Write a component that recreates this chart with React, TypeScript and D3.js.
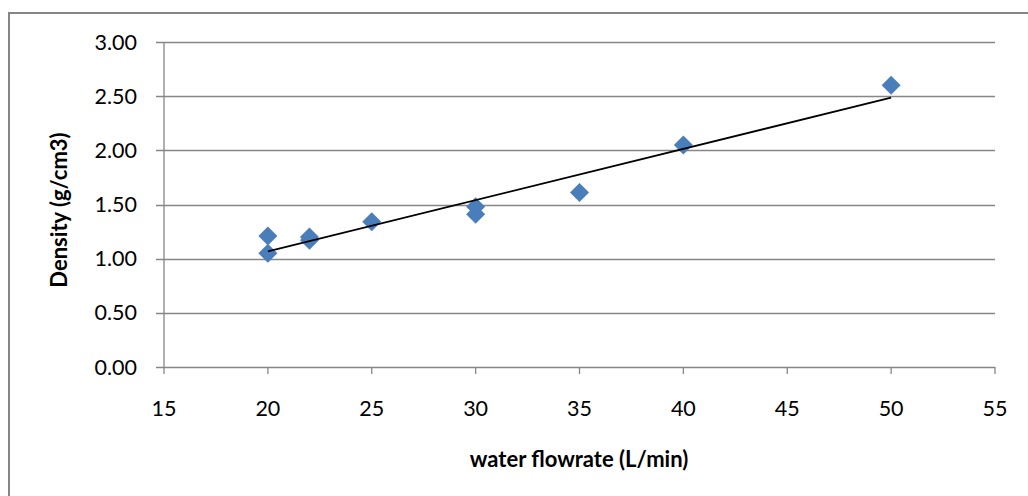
import React from 'react';
import * as d3 from 'd3';

// water flowrate (L/min) vs density (g/cm3)
const flowrate = [20, 20, 22, 22, 25, 30, 30, 35, 40, 50];
const density = [1.21, 1.05, 1.20, 1.17, 1.34, 1.48, 1.41, 1.61, 2.05, 2.60];
const xTicks = [15, 20, 25, 30, 35, 40, 45, 50, 55];
const yTicks = [0, 0.5, 1.0, 1.5, 2.0, 2.5, 3.0];

const W = 1028, H = 496;
const margin = { left: 164, right: 33, top: 42, bottom: 129 };
const FONT = 'Lato, Calibri, "Open Sans", sans-serif';
const GRID = '#868686';
const BLUE = '#4a7ebb';

const App = () => {
  const x = d3.scaleLinear().domain([15, 55]).range([margin.left, W - margin.right]);
  const y = d3.scaleLinear().domain([0, 3]).range([H - margin.bottom, margin.top]);

  // linear trendline (least squares) over the data
  const mx = d3.mean(flowrate)!;
  const my = d3.mean(density)!;
  const sxy = d3.sum(flowrate, (v, i) => (v - mx) * (density[i] - my));
  const sxx = d3.sum(flowrate, v => (v - mx) ** 2);
  const slope = sxy / sxx;
  const icpt = my - slope * mx;
  const [x0, x1] = d3.extent(flowrate) as [number, number];
  const trend = d3.line<number>().x(v => x(v)).y(v => y(icpt + slope * v));

  const diamond = d3.symbol().type(d3.symbolDiamond2).size(230)()!;

  return (
    <svg width={W} height={H} style={{ position: 'absolute', left: 0, top: 0 }}>
      <rect x={0} y={0} width={W} height={H} fill="#fff" />
      <rect x={9} y={13} width={W + 50} height={H + 50} fill="none" stroke={GRID} strokeWidth={2} />

      {yTicks.map(t => (
        <g key={'y' + t}>
          <line x1={x(15) - 8} x2={x(55)} y1={Math.round(y(t)) + 0.5} y2={Math.round(y(t)) + 0.5}
            stroke={GRID} strokeWidth={1.3} />
          <text x={137} y={y(t)} dy="0.35em" textAnchor="end" fontFamily={FONT} fontSize={21.5} fill="#000">
            {t.toFixed(2)}
          </text>
        </g>
      ))}
      <line x1={x(15)} x2={x(15)} y1={y(3)} y2={y(0)} stroke={GRID} strokeWidth={1.3} />

      {xTicks.map(t => (
        <g key={'x' + t}>
          <line x1={x(t)} x2={x(t)} y1={y(0)} y2={y(0) + 7} stroke={GRID} strokeWidth={1.3} />
          <text x={x(t)} y={408} dy="0.35em" textAnchor="middle" fontFamily={FONT} fontSize={21.5} fill="#000">
            {t}
          </text>
        </g>
      ))}

      {flowrate.map((v, i) => (
        <path key={i} d={diamond} transform={`translate(${x(v)},${y(density[i])})`} fill={BLUE} />
      ))}

      <path d={trend([x0, x1])!} fill="none" stroke="#000" strokeWidth={1.8} />

      <text x={579} y={459} dy="0.35em" textAnchor="middle" fontFamily={FONT} fontSize={22} fontWeight="bold">
        water flowrate (L/min)
      </text>
      <text transform="translate(59,210) rotate(-90)" dy="0.35em" textAnchor="middle" fontFamily={FONT}
        fontSize={22} fontWeight="bold">
        Density (g/cm3)
      </text>
    </svg>
  );
};

export default App;
